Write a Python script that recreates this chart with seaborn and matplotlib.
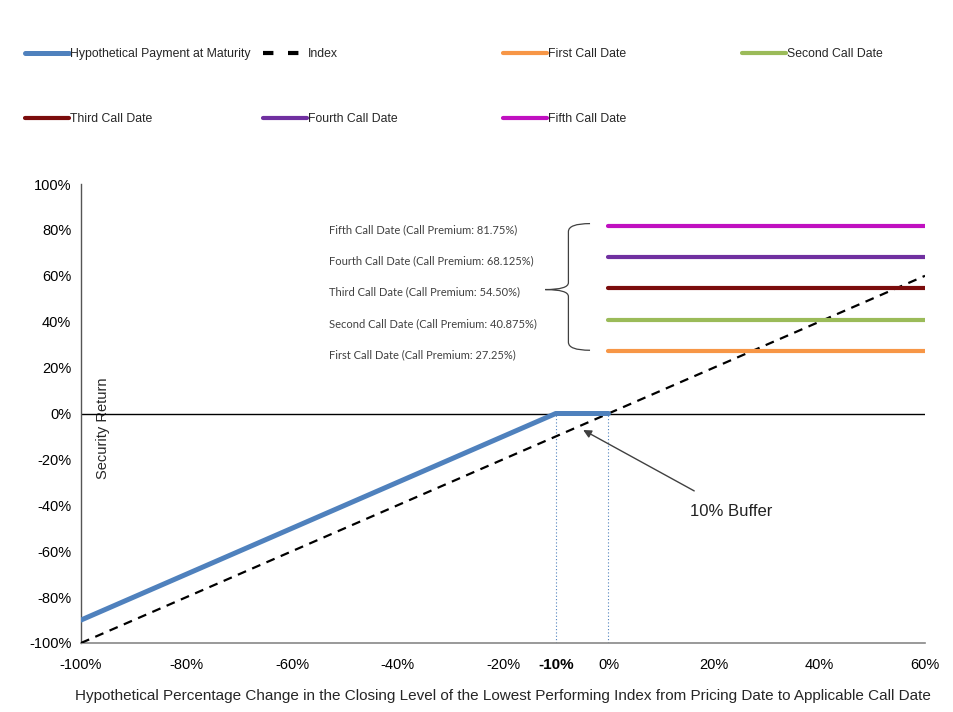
import numpy as np
import pandas as pd
import matplotlib
matplotlib.use("Agg")
import matplotlib.pyplot as plt
import seaborn as sns
from matplotlib.path import Path
from matplotlib.patches import PathPatch
from matplotlib.lines import Line2D

# ---------------- data ----------------
payment_x = [-100, -10, 0]
payment_y = [-90, 0, 0]
index_x = [-100, 60]
index_y = [-100, 60]
call_names = ["First Call Date", "Second Call Date", "Third Call Date",
              "Fourth Call Date", "Fifth Call Date"]
call_premiums = [27.25, 40.875, 54.50, 68.125, 81.75]
call_premium_labels = ["27.25%", "40.875%", "54.50%", "68.125%", "81.75%"]
call_x = [0, 60]
buffer_level = -10
x_ticks = [-100, -80, -60, -40, -20, -10, 0, 20, 40, 60]
x_tick_labels = ["-100%", "-80%", "-60%", "-40%", "-20%", "-10%", "0%", "20%", "40%", "60%"]
y_ticks = [-100, -80, -60, -40, -20, 0, 20, 40, 60, 80, 100]
y_tick_labels = [f"{v}%" for v in y_ticks]

call_colors = ["#F79646", "#9BBB59", "#7B0C0C", "#7030A0", "#C010C0"]
blue = "#4F81BD"

sns.set_style("white")
plt.rcParams['font.family'] = ['Liberation Sans', 'DejaVu Sans']

fig = plt.figure(figsize=(9.54, 7.12), dpi=100)
ax = fig.add_axes([81/954, 1-643/712, (925-81)/954, (643-184)/712])

# zero line
ax.axhline(0, color="black", lw=1.0, zorder=1)

# dotted buffer guides
for xv in [buffer_level, 0]:
    ax.plot([xv, xv], [-100, 0], color=blue, lw=0.8, ls=(0, (1, 2)), zorder=1)

# index dashed
df_idx = pd.DataFrame({"x": index_x, "y": index_y})
sns.lineplot(data=df_idx, x="x", y="y", ax=ax, color="black", lw=1.6,
             linestyle=(0, (4, 3)), zorder=3)

# payment
df_pay = pd.DataFrame({"x": payment_x, "y": payment_y})
sns.lineplot(data=df_pay, x="x", y="y", ax=ax, color=blue, lw=3.6,
             zorder=4, sort=False)

# call lines with descriptive texts
for name, prem, plab, col in zip(call_names, call_premiums, call_premium_labels, call_colors):
    df_c = pd.DataFrame({"x": call_x, "y": [prem, prem]})
    sns.lineplot(data=df_c, x="x", y="y", ax=ax, color=col, lw=3.0, zorder=3)
    ax.text(-53, prem - 1.6, f"{name} (Call Premium: {plab})",
            fontsize=8.0, family=['Lato', 'DejaVu Sans'], color="#404040",
            va="center", ha="left")

# brace
top, bot = max(call_premiums) + 1, min(call_premiums) + 0.3
mid = call_premiums[len(call_premiums)//2] - 0.5
xr, xv, xt = -3.5, -7.6, -12.0
verts = [(xr, top), (xv, top), (xv, top - 3.5),
         (xv, mid + 3), (xv, mid), (xt, mid),
         (xv, mid), (xv, mid - 3),
         (xv, bot + 3.5), (xv, bot), (xr, bot)]
codes = [Path.MOVETO, Path.CURVE3, Path.CURVE3,
         Path.LINETO, Path.CURVE3, Path.CURVE3,
         Path.CURVE3, Path.CURVE3,
         Path.LINETO, Path.CURVE3, Path.CURVE3]
ax.add_patch(PathPatch(Path(verts, codes), fill=False, ec="#404040", lw=0.9))

# buffer annotation
ax.annotate("10% Buffer", xy=(-4.8, -7.2), xytext=(15.4, -42.5),
            fontsize=12, color="#222222", va="center", ha="left",
            arrowprops=dict(arrowstyle="-|>", color="#404040", lw=1.0,
                            shrinkA=14, shrinkB=0, mutation_scale=12))

ax.set_xlim(-100, 60)
ax.set_ylim(-100, 100)
ax.set_xticks(x_ticks)
ax.set_xticklabels(x_tick_labels, fontsize=10.5)
ax.set_yticks(y_ticks)
ax.set_yticklabels(y_tick_labels, fontsize=10.5)
ax.tick_params(axis="both", direction="out", length=4, width=0.8,
               colors="#555555", labelcolor="black")
ax.tick_params(axis="x", length=2, pad=9)
ax.tick_params(axis="y", pad=3)
for lbl in ax.get_xticklabels():
    if lbl.get_text() == "-10%":
        lbl.set_fontweight("bold")
        lbl.set_fontsize(11)
for s in ["top", "right"]:
    ax.spines[s].set_visible(False)
ax.spines["left"].set_color("#555555")
ax.spines["bottom"].set_color("#888888")
ax.spines["left"].set_linewidth(1.0)
ax.spines["bottom"].set_linewidth(1.2)

ax.set_xlabel("Hypothetical Percentage Change in the Closing Level of the Lowest Performing Index from Pricing Date to Applicable Call Date",
              fontsize=11)
ax.xaxis.set_label_coords(0.5, -0.1)
ax.set_ylabel("Security Return", fontsize=10.5)
ax.yaxis.set_label_coords(0.034, 0.468)

# legend entries, positioned like the Excel legend
entries = [("Hypothetical Payment at Maturity", Line2D([], [], color=blue, lw=3.6)),
           ("Index", Line2D([], [], color="black", lw=3.0, ls=(0, (2.5, 3.5)))),
           (call_names[0], Line2D([], [], color=call_colors[0], lw=3.0)),
           (call_names[1], Line2D([], [], color=call_colors[1], lw=3.0)),
           (call_names[2], Line2D([], [], color=call_colors[2], lw=3.0)),
           (call_names[3], Line2D([], [], color=call_colors[3], lw=3.0)),
           (call_names[4], Line2D([], [], color=call_colors[4], lw=3.0))]
pos = [(25, 54), (263, 54), (503, 54), (742, 54), (25, 119), (263, 119), (503, 119)]
for (lab, h), (px, py) in zip(entries, pos):
    fig.legend([h], [lab], loc="center left", bbox_to_anchor=(px/954, 1-py/712),
               frameon=False, fontsize=8.8, handlelength=3.6, handletextpad=0.05,
               borderpad=0, borderaxespad=0)

fig.savefig("out.png", dpi=100)
